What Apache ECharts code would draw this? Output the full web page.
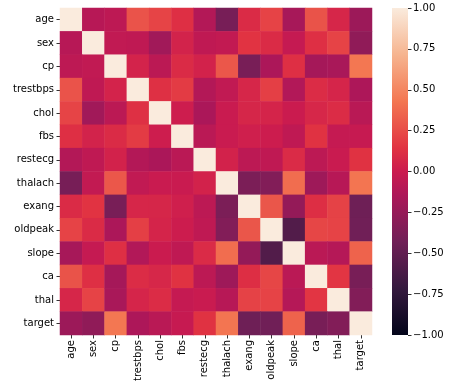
<!DOCTYPE html>
<html><head><meta charset="utf-8">
<script src="https://cdn.jsdelivr.net/npm/echarts@6/dist/echarts.min.js"></script>
<style>html,body{margin:0;padding:0;background:#fff}#c{width:449px;height:391px}</style>
</head><body><div id="c"></div>
<script>
const labels = ['age','sex','cp','trestbps','chol','fbs','restecg','thalach','exang','oldpeak','slope','ca','thal','target'];
const rowAge      = [1.000,-0.098,-0.069,0.279,0.214,0.121,-0.116,-0.399,0.097,0.210,-0.169,0.276,0.068,-0.225];
const rowSex      = [-0.098,1.000,-0.049,-0.057,-0.198,0.045,-0.058,-0.044,0.142,0.096,-0.031,0.118,0.210,-0.281];
const rowCp       = [-0.069,-0.049,1.000,0.048,-0.077,0.094,0.044,0.296,-0.394,-0.149,0.120,-0.181,-0.162,0.434];
const rowTrestbps = [0.279,-0.057,0.048,1.000,0.123,0.178,-0.114,-0.047,0.068,0.193,-0.121,0.101,0.062,-0.145];
const rowChol     = [0.214,-0.198,-0.077,0.123,1.000,0.013,-0.151,-0.010,0.067,0.054,-0.004,0.071,0.099,-0.085];
const rowFbs      = [0.121,0.045,0.094,0.178,0.013,1.000,-0.084,-0.009,0.026,0.006,-0.060,0.138,-0.032,-0.028];
const rowRestecg  = [-0.116,-0.058,0.044,-0.114,-0.151,-0.084,1.000,0.044,-0.071,-0.059,0.093,-0.072,-0.012,0.137];
const rowThalach  = [-0.399,-0.044,0.296,-0.047,-0.010,-0.009,0.044,1.000,-0.379,-0.344,0.387,-0.213,-0.096,0.422];
const rowExang    = [0.097,0.142,-0.394,0.068,0.067,0.026,-0.071,-0.379,1.000,0.288,-0.258,0.116,0.207,-0.437];
const rowOldpeak  = [0.210,0.096,-0.149,0.193,0.054,0.006,-0.059,-0.344,0.288,1.000,-0.578,0.223,0.210,-0.431];
const rowSlope    = [-0.169,-0.031,0.120,-0.121,-0.004,-0.060,0.093,0.387,-0.258,-0.578,1.000,-0.080,-0.105,0.346];
const rowCa       = [0.276,0.118,-0.181,0.101,0.071,0.138,-0.072,-0.213,0.116,0.223,-0.080,1.000,0.152,-0.392];
const rowThal     = [0.068,0.210,-0.162,0.062,0.099,-0.032,-0.012,-0.096,0.207,0.210,-0.105,0.152,1.000,-0.344];
const rowTarget   = [-0.225,-0.281,0.434,-0.145,-0.085,-0.028,0.137,0.422,-0.437,-0.431,0.346,-0.392,-0.344,1.000];
const rows = [rowAge,rowSex,rowCp,rowTrestbps,rowChol,rowFbs,rowRestecg,rowThalach,rowExang,rowOldpeak,rowSlope,rowCa,rowThal,rowTarget];

// seaborn "rocket" colormap stops (position, colour)
const rocketPos = [0, 1/7, 2/7, 3/7, 0.5, 4/7, 5/7, 6/7, 1];
const rocketCol = ['#03051a','#35193e','#701f57','#ad1759','#cb1b4f','#e13342','#f37651','#f6b48f','#faebdd'];

function hex2rgb(h){return [parseInt(h.slice(1,3),16),parseInt(h.slice(3,5),16),parseInt(h.slice(5,7),16)];}
function sample(t){
  for (let i=0;i<rocketPos.length-1;i++){
    if (t<=rocketPos[i+1]){
      const f=(t-rocketPos[i])/(rocketPos[i+1]-rocketPos[i]);
      const a=hex2rgb(rocketCol[i]), b=hex2rgb(rocketCol[i+1]);
      return 'rgb('+a.map((v,k)=>Math.round(v+(b[k]-v)*f)).join(',')+')';
    }
  }
  return rocketCol[rocketCol.length-1];
}
const N = 57;
const ramp = [];
for (let i=0;i<N;i++) ramp.push(sample(i/(N-1)));

const data = [];
rows.forEach((r, yi) => r.forEach((v, xi) => data.push([xi, yi, v])));

const FONT = 'DejaVu Sans';
const chart = echarts.init(document.getElementById('c'), null, {renderer:'canvas'});
chart.setOption({
  animation: false,
  backgroundColor: '#fff',
  grid: [
    {left: 60, top: 8, width: 312, height: 327},
    {left: 392, top: 8, width: 16, height: 327}
  ],
  xAxis: [
    {gridIndex:0, type:'category', data: labels, position:'bottom',
     axisLine:{show:false}, splitLine:{show:false},
     axisTick:{show:true, alignWithLabel:true, length:3.5, lineStyle:{color:'#333'}},
     axisLabel:{rotate:90, color:'#000', fontFamily:FONT, fontSize:10, margin:5, interval:0}},
    {gridIndex:1, type:'category', data:['c'], show:false}
  ],
  yAxis: [
    {gridIndex:0, type:'category', data: labels, inverse:true,
     axisLine:{show:false}, splitLine:{show:false},
     axisTick:{show:true, alignWithLabel:true, length:3.5, lineStyle:{color:'#333'}},
     axisLabel:{color:'#000', fontFamily:FONT, fontSize:10, margin:6, interval:0}},
    {gridIndex:1, type:'value', min:-1, max:1, interval:0.25, position:'right',
     axisLine:{show:false}, splitLine:{show:false},
     axisTick:{show:true, length:3.5, lineStyle:{color:'#333'}},
     axisLabel:{color:'#000', fontFamily:FONT, fontSize:10, margin:5,
       formatter: v => (v < 0 ? '\u2212' : '') + Math.abs(v).toFixed(2)}}
  ],
  visualMap: {
    show:false, type:'continuous', min:-1, max:1, seriesIndex:0, dimension:2,
    inRange:{color: ramp}
  },
  series: [
    {type:'heatmap', xAxisIndex:0, yAxisIndex:0, data: data, itemStyle:{borderWidth:0}, emphasis:{disabled:true}},
    {type:'custom', xAxisIndex:1, yAxisIndex:1, data:[[0, 0]],
     renderItem: (params, api) => {
       const top = api.coord([0, 1]);
       const bot = api.coord([0, -1]);
       const cs = params.coordSys;
       const stops = rocketPos.map((p, i) => ({offset: 1 - p, color: rocketCol[i]})).reverse();
       return {type:'rect', shape:{x: cs.x, y: top[1], width: cs.width, height: bot[1]-top[1]},
         style:{fill: new echarts.graphic.LinearGradient(0,0,0,1, stops)}};
     }}
  ]
});
</script></body></html>
